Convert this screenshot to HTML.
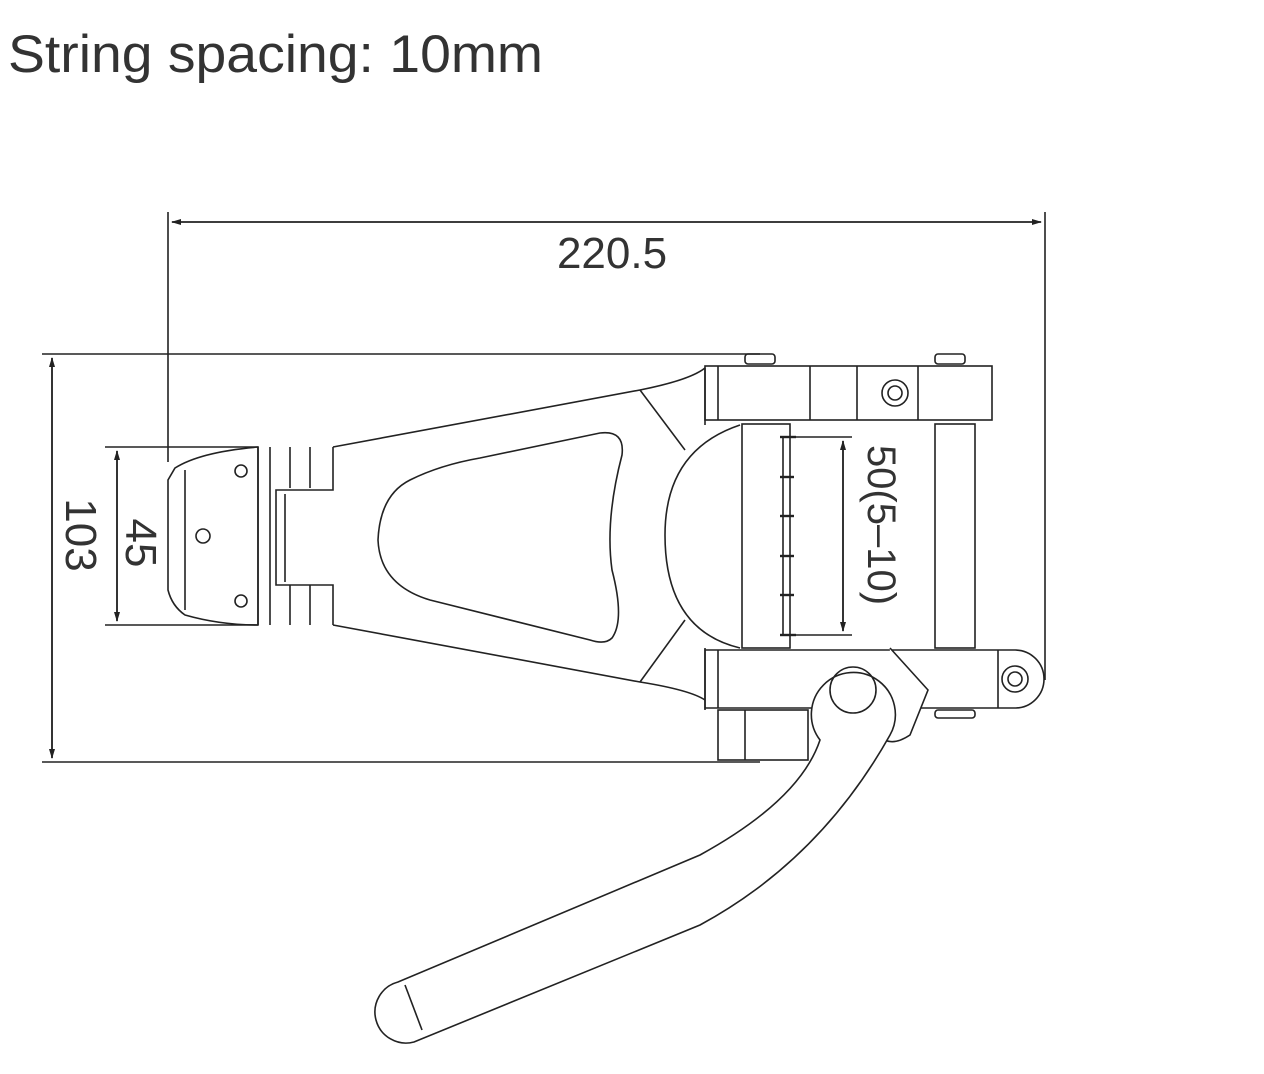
<!DOCTYPE html>
<html><head><meta charset="utf-8"><style>
html,body{margin:0;padding:0;background:#fff;}
svg{display:block;}
text{font-family:"Liberation Sans",sans-serif;fill:#333;}
</style></head><body>
<svg width="1264" height="1074" viewBox="0 0 1264 1074" xmlns="http://www.w3.org/2000/svg">
<defs>
<marker id="a" markerWidth="10" markerHeight="10" refX="9" refY="5" orient="auto" markerUnits="userSpaceOnUse">
<path d="M0,2 L10,5 L0,8 Z" fill="#222"/></marker>
</defs>
<text x="8" y="72" font-size="53" textLength="535" lengthAdjust="spacingAndGlyphs">String spacing: 10mm</text>
<g stroke="#222" stroke-width="1.6" fill="none">
<!-- 220.5 dim -->
<line x1="168" y1="212" x2="168" y2="462"/>
<line x1="1045" y1="212" x2="1045" y2="680"/>
<line x1="172" y1="222" x2="1041" y2="222" marker-end="url(#a)"/>
<line x1="1041" y1="222" x2="172" y2="222" marker-end="url(#a)"/>
<!-- 103 dim -->
<line x1="42" y1="354" x2="760" y2="354"/>
<line x1="42" y1="762" x2="760" y2="762"/>
<line x1="52" y1="358" x2="52" y2="758" marker-end="url(#a)"/>
<line x1="52" y1="758" x2="52" y2="358" marker-end="url(#a)"/>
<!-- 45 dim -->
<line x1="105" y1="447" x2="258" y2="447"/>
<line x1="105" y1="625" x2="258" y2="625"/>
<line x1="117" y1="451" x2="117" y2="621" marker-end="url(#a)"/>
<line x1="117" y1="621" x2="117" y2="451" marker-end="url(#a)"/>
<!-- tail plate -->
<path d="M258,447 Q200,452 175,468 L168,480 L168,590 Q172,606 185,615 Q220,625 258,625 Z"/>
<line x1="185" y1="470" x2="185" y2="610"/>
<circle cx="241" cy="471" r="6"/><circle cx="203" cy="536" r="7"/><circle cx="241" cy="601" r="6"/>
<line x1="258" y1="447" x2="258" y2="625"/>
<line x1="270" y1="447" x2="270" y2="625"/>
<line x1="290" y1="447" x2="290" y2="488"/><line x1="290" y1="585" x2="290" y2="625"/>
<line x1="310" y1="447" x2="310" y2="488"/><line x1="310" y1="585" x2="310" y2="625"/>
<path d="M333,447 L333,490 L276,490 L276,585 L333,585 L333,625"/>
<line x1="285" y1="494" x2="285" y2="582"/>
<!-- arm -->
<path d="M333,447 L640,390 Q690,380 705,368"/>
<path d="M333,625 L640,682 Q690,690 705,700"/>
<line x1="640" y1="390" x2="685" y2="450"/>
<line x1="640" y1="682" x2="685" y2="620"/>
<path d="M410,480 Q440,465 480,458 L600,433 Q625,430 622,455 Q605,520 612,570 Q625,620 612,638 Q605,645 590,640 L430,600 Q380,585 378,540 Q380,495 410,480 Z"/>
<!-- big ellipse -->
<path d="M740,425 Q665,450 665,535 Q665,630 740,648"/>
<path d="M705,368 L705,425"/><path d="M705,648 L705,710"/>
<!-- top bar -->
<rect x="705" y="366" width="287" height="54"/>
<line x1="718" y1="366" x2="718" y2="420"/>
<line x1="810" y1="366" x2="810" y2="420"/>
<line x1="857" y1="366" x2="857" y2="420"/>
<line x1="918" y1="366" x2="918" y2="420"/>
<circle cx="895" cy="393" r="13"/><circle cx="895" cy="393" r="7"/>
<rect x="745" y="354" width="30" height="10" rx="3"/>
<rect x="935" y="354" width="30" height="10" rx="3"/>
<!-- rollers -->
<rect x="742" y="424" width="48" height="224"/>
<rect x="935" y="424" width="40" height="224"/>
<g stroke-width="2.4">
<line x1="780" y1="437" x2="796" y2="437"/><line x1="780" y1="477" x2="794" y2="477"/>
<line x1="780" y1="516" x2="794" y2="516"/><line x1="780" y1="556" x2="794" y2="556"/>
<line x1="780" y1="595" x2="794" y2="595"/><line x1="780" y1="635" x2="796" y2="635"/>
</g>
<line x1="783" y1="437" x2="783" y2="635"/>
<line x1="796" y1="437" x2="852" y2="437"/>
<line x1="796" y1="635" x2="852" y2="635"/>
<line x1="843" y1="441" x2="843" y2="631" marker-end="url(#a)"/>
<line x1="843" y1="631" x2="843" y2="441" marker-end="url(#a)"/>
<!-- bottom bar -->
<path d="M705,650 L1015,650 A28,28 0 0 1 1015,708 L705,708 Z"/>
<line x1="718" y1="650" x2="718" y2="708"/>
<line x1="998" y1="650" x2="998" y2="708"/>
<circle cx="1015" cy="679" r="13"/><circle cx="1015" cy="679" r="7"/>
<rect x="718" y="710" width="90" height="50"/>
<line x1="745" y1="710" x2="745" y2="760"/>
<rect x="935" y="710" width="40" height="8" rx="3"/>
<!-- lever -->
<path d="M890,648 L928,690 L910,735 Q895,745 885,740" fill="#fff"/>
<path d="M820,740 Q800,800 700,855 L398,982 A30,30 0 0 0 414,1042 L700,925 Q820,860 890,735 A42,42 0 1 0 820,740 Z" fill="#fff"/>
<circle cx="853" cy="690" r="23"/>
<line x1="405" y1="985" x2="422" y2="1030"/>
</g>
<text x="612" y="268" font-size="44" text-anchor="middle">220.5</text>
<text transform="translate(66,535) rotate(90)" font-size="44" text-anchor="middle">103</text>
<text transform="translate(126,543) rotate(90)" font-size="44" text-anchor="middle">45</text>
<text transform="translate(868,525) rotate(90)" font-size="40" text-anchor="middle">50(5–10)</text>
</svg>
</body></html>
